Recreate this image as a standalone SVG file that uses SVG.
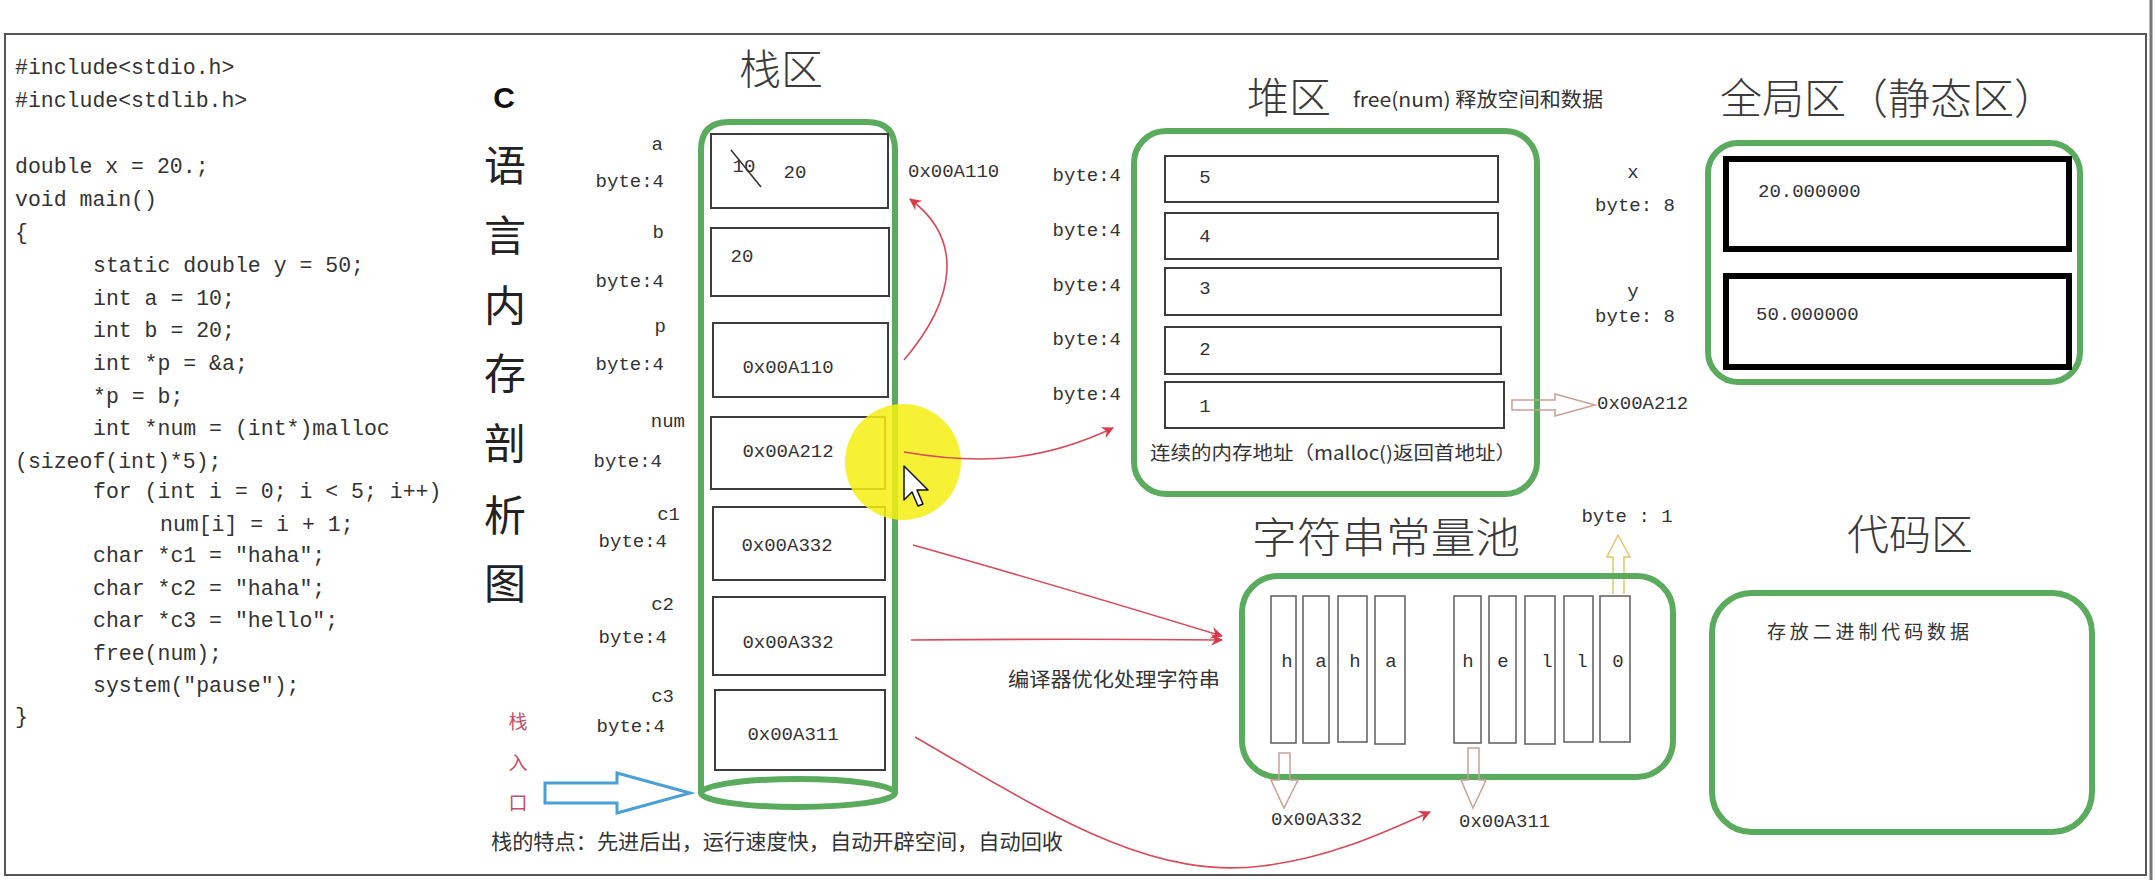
<svg xmlns="http://www.w3.org/2000/svg" width="2156" height="880" viewBox="0 0 2156 880">
<defs>
<style>
.code{font-family:"Liberation Mono","DejaVu Sans Mono",monospace;font-size:21.5px;fill:#333}
.mono{font-family:"Liberation Mono","DejaVu Sans Mono",monospace;font-size:19px;fill:#333}
.cjk{font-family:"Noto Sans CJK SC","Noto Sans",sans-serif;fill:#333}
.title{font-family:"Noto Sans CJK SC","Noto Sans",sans-serif;fill:#3a3a3a;font-size:42px;font-weight:300}
.zone{fill:none;stroke:#5aab5e;stroke-width:6}
.cell{fill:#fff;stroke:#3c3c3c;stroke-width:2}
.scell{fill:none;stroke:#666;stroke-width:1.6}
.gcell{fill:#fff;stroke:#000;stroke-width:6}
.red{fill:none;stroke:#d94a5a;stroke-width:1.6}
.hollow{fill:none;stroke:#c9a098;stroke-width:1.5}
</style>
<marker id="ah" viewBox="0 0 12 12" refX="11" refY="6" markerWidth="12" markerHeight="12" markerUnits="userSpaceOnUse" orient="auto">
<path d="M0,0 L12,6 L0,12 L4,6 Z" fill="#d93a4a"/>
</marker>
</defs>
<rect width="2156" height="880" fill="#fff"/>
<g id="frame">
<rect x="5" y="34" width="2141" height="841" fill="none" stroke="#555" stroke-width="2"/>
<line x1="2151" y1="0" x2="2151" y2="880" stroke="#777" stroke-width="3"/>
</g>
<g id="code">
<text class="code" x="15" y="74">#include&lt;stdio.h&gt;</text>
<text class="code" x="15" y="107">#include&lt;stdlib.h&gt;</text>
<text class="code" x="15" y="173">double x = 20.;</text>
<text class="code" x="15" y="206">void main()</text>
<text class="code" x="15" y="239">{</text>
<text class="code" x="93" y="272">static double y = 50;</text>
<text class="code" x="93" y="305">int a = 10;</text>
<text class="code" x="93" y="337">int b = 20;</text>
<text class="code" x="93" y="370">int *p = &amp;a;</text>
<text class="code" x="93" y="403">*p = b;</text>
<text class="code" x="93" y="435">int *num = (int*)malloc</text>
<text class="code" x="15" y="468">(sizeof(int)*5);</text>
<text class="code" x="93" y="498">for (int i = 0; i &lt; 5; i++)</text>
<text class="code" x="160" y="531">num[i] = i + 1;</text>
<text class="code" x="93" y="562">char *c1 = ″haha″;</text>
<text class="code" x="93" y="595">char *c2 = ″haha″;</text>
<text class="code" x="93" y="627">char *c3 = ″hello″;</text>
<text class="code" x="93" y="660">free(num);</text>
<text class="code" x="93" y="692">system(″pause″);</text>
<text class="code" x="15" y="723">}</text>
</g>
<g id="title-vertical">
<text x="504" y="97" text-anchor="middle" dominant-baseline="central" font-family="Liberation Sans,Arial,sans-serif" font-weight="bold" font-size="30" fill="#111">C</text>
<g class="cjk" font-size="42" text-anchor="middle" dominant-baseline="central" style="fill:#222">
<text x="505" y="162" dominant-baseline="central">语</text>
<text x="505" y="232" dominant-baseline="central">言</text>
<text x="505" y="302" dominant-baseline="central">内</text>
<text x="505" y="370" dominant-baseline="central">存</text>
<text x="505" y="440" dominant-baseline="central">剖</text>
<text x="505" y="512" dominant-baseline="central">析</text>
<text x="505" y="580" dominant-baseline="central">图</text>
</g>
<g class="cjk" font-size="19" text-anchor="middle" style="fill:#c0506a">
<text x="518" y="720" dominant-baseline="central">栈</text>
<text x="518" y="761" dominant-baseline="central">入</text>
<text x="518" y="801" dominant-baseline="central">口</text>
</g>
</g>
<g id="stack">
<text class="title" x="781" y="66" text-anchor="middle" dominant-baseline="central">栈区</text>
<path class="zone" d="M701,793 V150 Q701,122 729,122 H867 Q895,122 895,150 V793"/>
<ellipse class="zone" cx="798" cy="793" rx="97" ry="14"/>
<rect class="cell" x="711" y="134" width="177" height="74"/>
<rect class="cell" x="711" y="228" width="178" height="68"/>
<rect class="cell" x="713" y="323" width="175" height="74"/>
<rect class="cell" x="711" y="417" width="174" height="72"/>
<rect class="cell" x="713" y="507" width="172" height="73"/>
<rect class="cell" x="713" y="597" width="172" height="78"/>
<rect class="cell" x="715" y="690" width="170" height="80"/>
<g class="mono" text-anchor="middle">
<text x="744" y="167" dominant-baseline="central">10</text>
<line x1="731" y1="150" x2="761" y2="187" stroke="#333" stroke-width="1.5"/>
<text x="795" y="173" dominant-baseline="central">20</text>
<text x="742" y="257" dominant-baseline="central">20</text>
<text x="788" y="368" dominant-baseline="central">0x00A110</text>
<text x="788" y="452" dominant-baseline="central">0x00A212</text>
<text x="787" y="546" dominant-baseline="central">0x00A332</text>
<text x="788" y="643" dominant-baseline="central">0x00A332</text>
<text x="793" y="735" dominant-baseline="central">0x00A311</text>
</g>
<g class="mono" text-anchor="end">
<text x="663" y="145" dominant-baseline="central">a</text>
<text x="664" y="182" dominant-baseline="central">byte:4</text>
<text x="664" y="233" dominant-baseline="central">b</text>
<text x="664" y="282" dominant-baseline="central">byte:4</text>
<text x="666" y="327" dominant-baseline="central">p</text>
<text x="664" y="365" dominant-baseline="central">byte:4</text>
<text x="685" y="422" dominant-baseline="central">num</text>
<text x="662" y="462" dominant-baseline="central">byte:4</text>
<text x="680" y="515" dominant-baseline="central">c1</text>
<text x="667" y="542" dominant-baseline="central">byte:4</text>
<text x="674" y="605" dominant-baseline="central">c2</text>
<text x="667" y="638" dominant-baseline="central">byte:4</text>
<text x="674" y="697" dominant-baseline="central">c3</text>
<text x="665" y="727" dominant-baseline="central">byte:4</text>
</g>
<text class="mono" x="908" y="172" dominant-baseline="central">0x00A110</text>
<path d="M545,783 H617 V773 L690,793 L617,813 V803 H545 Z" fill="none" stroke="#4a9fd5" stroke-width="3"/>
<text class="cjk" x="491" y="840" font-size="21" dominant-baseline="central" textLength="572" lengthAdjust="spacingAndGlyphs">栈的特点：先进后出，运行速度快，自动开辟空间，自动回收</text>
</g>
<g id="heap">
<text class="title" x="1289" y="94" text-anchor="middle" dominant-baseline="central">堆区</text>
<text class="cjk" x="1353" y="98" font-size="20" dominant-baseline="central" textLength="250" lengthAdjust="spacingAndGlyphs">free(num) 释放空间和数据</text>
<rect class="zone" x="1134" y="131" width="403" height="363" rx="32"/>
<rect class="cell" x="1165" y="156" width="333" height="46"/>
<rect class="cell" x="1165" y="213" width="333" height="46"/>
<rect class="cell" x="1165" y="268" width="336" height="47"/>
<rect class="cell" x="1165" y="327" width="336" height="47"/>
<rect class="cell" x="1165" y="382" width="339" height="46"/>
<g class="mono" text-anchor="middle">
<text x="1205" y="178" dominant-baseline="central">5</text>
<text x="1205" y="237" dominant-baseline="central">4</text>
<text x="1205" y="289" dominant-baseline="central">3</text>
<text x="1205" y="350" dominant-baseline="central">2</text>
<text x="1205" y="407" dominant-baseline="central">1</text>
</g>
<g class="mono" text-anchor="end">
<text x="1121" y="176" dominant-baseline="central">byte:4</text>
<text x="1121" y="231" dominant-baseline="central">byte:4</text>
<text x="1121" y="286" dominant-baseline="central">byte:4</text>
<text x="1121" y="340" dominant-baseline="central">byte:4</text>
<text x="1121" y="395" dominant-baseline="central">byte:4</text>
</g>
<text class="cjk" x="1150" y="451" font-size="19" dominant-baseline="central" textLength="366" lengthAdjust="spacingAndGlyphs">连续的内存地址（malloc()返回首地址）</text>
<path class="hollow" d="M1512,400 H1555 V394 L1595,405 L1555,416 V410 H1512 Z"/>
<text class="mono" x="1597" y="404" dominant-baseline="central">0x00A212</text>
</g>
<g id="global">
<text class="title" x="1888" y="95" text-anchor="middle" dominant-baseline="central">全局区（静态区）</text>
<text class="mono" x="1633" y="173" text-anchor="middle" dominant-baseline="central">x</text>
<text class="mono" x="1635" y="206" text-anchor="middle" dominant-baseline="central">byte: 8</text>
<text class="mono" x="1633" y="292" text-anchor="middle" dominant-baseline="central">y</text>
<text class="mono" x="1635" y="317" text-anchor="middle" dominant-baseline="central">byte: 8</text>
<rect class="zone" x="1708" y="143" width="372" height="239" rx="30"/>
<rect class="gcell" x="1726" y="159" width="343" height="90"/>
<rect class="gcell" x="1726" y="276" width="343" height="91"/>
<text class="mono" x="1758" y="192" dominant-baseline="central">20.000000</text>
<text class="mono" x="1756" y="315" dominant-baseline="central">50.000000</text>
</g>
<g id="string-pool">
<text class="title" x="1386" y="534" text-anchor="middle" dominant-baseline="central" font-size="44" textLength="268" lengthAdjust="spacingAndGlyphs">字符串常量池</text>
<text class="mono" x="1627" y="517" text-anchor="middle" dominant-baseline="central">byte : 1</text>
<path d="M1613,594 V557 H1607 L1618,535 L1630,557 H1624 V594" fill="none" stroke="#e2c56a" stroke-width="1.5"/>
<rect class="zone" x="1242" y="576" width="431" height="201" rx="36"/>
<rect class="scell" x="1271" y="596" width="25" height="147"/>
<rect class="scell" x="1303" y="596" width="26" height="147"/>
<rect class="scell" x="1338" y="596" width="29" height="146"/>
<rect class="scell" x="1375" y="596" width="30" height="148"/>
<rect class="scell" x="1454" y="596" width="27" height="147"/>
<rect class="scell" x="1489" y="596" width="27" height="147"/>
<rect class="scell" x="1525" y="596" width="30" height="148"/>
<rect class="scell" x="1564" y="596" width="29" height="146"/>
<rect class="scell" x="1600" y="596" width="30" height="146"/>
<g class="mono" font-size="18" text-anchor="middle">
<text x="1287" y="662" dominant-baseline="central">h</text>
<text x="1321" y="662" dominant-baseline="central">a</text>
<text x="1355" y="662" dominant-baseline="central">h</text>
<text x="1391" y="662" dominant-baseline="central">a</text>
<text x="1468" y="662" dominant-baseline="central">h</text>
<text x="1503" y="662" dominant-baseline="central">e</text>
<text x="1547" y="662" dominant-baseline="central">l</text>
<text x="1582" y="662" dominant-baseline="central">l</text>
<text x="1618" y="662" dominant-baseline="central">0</text>
</g>
<path class="hollow" d="M1279,753 H1290 V780 H1298 L1284,808 L1271,780 H1279 Z"/>
<path class="hollow" d="M1468,748 H1479 V780 H1486 L1473,808 L1461,780 H1468 Z"/>
<text class="mono" x="1271" y="820" dominant-baseline="central">0x00A332</text>
<text class="mono" x="1459" y="822" dominant-baseline="central">0x00A311</text>
</g>
<g id="code-area">
<text class="title" x="1910" y="531" text-anchor="middle" dominant-baseline="central">代码区</text>
<rect class="zone" x="1712" y="593" width="380" height="239" rx="40"/>
<text class="cjk" x="1767" y="630" font-size="19" dominant-baseline="central" textLength="202" lengthAdjust="spacing">存放二进制代码数据</text>
</g>
<g id="highlight">
<circle cx="903" cy="462" r="58" fill="#f5ef10" opacity="0.85"/>
</g>
<g id="connectors">
<path class="red" d="M904,360 C955,300 965,240 910,199" marker-end="url(#ah)"/>
<path class="red" d="M904,452 C985,466 1045,460 1113,428" marker-end="url(#ah)"/>
<path class="red" d="M913,545 C1020,575 1120,605 1222,636" marker-end="url(#ah)"/>
<path class="red" d="M911,640 C1020,639 1120,639 1222,640" marker-end="url(#ah)"/>
<path class="red" d="M915,737 C1050,815 1150,880 1262,866 C1330,858 1385,832 1430,812" marker-end="url(#ah)"/>
<text class="cjk" x="1008" y="678" font-size="20" dominant-baseline="central" textLength="212" lengthAdjust="spacingAndGlyphs">编译器优化处理字符串</text>
</g>
<g id="cursor">
<path d="M904,466 V500 L912,492 L918,506 L923,504 L917,490 L928,490 Z" fill="#fff" stroke="#111" stroke-width="1.5" stroke-linejoin="round"/>
</g>
</svg>
